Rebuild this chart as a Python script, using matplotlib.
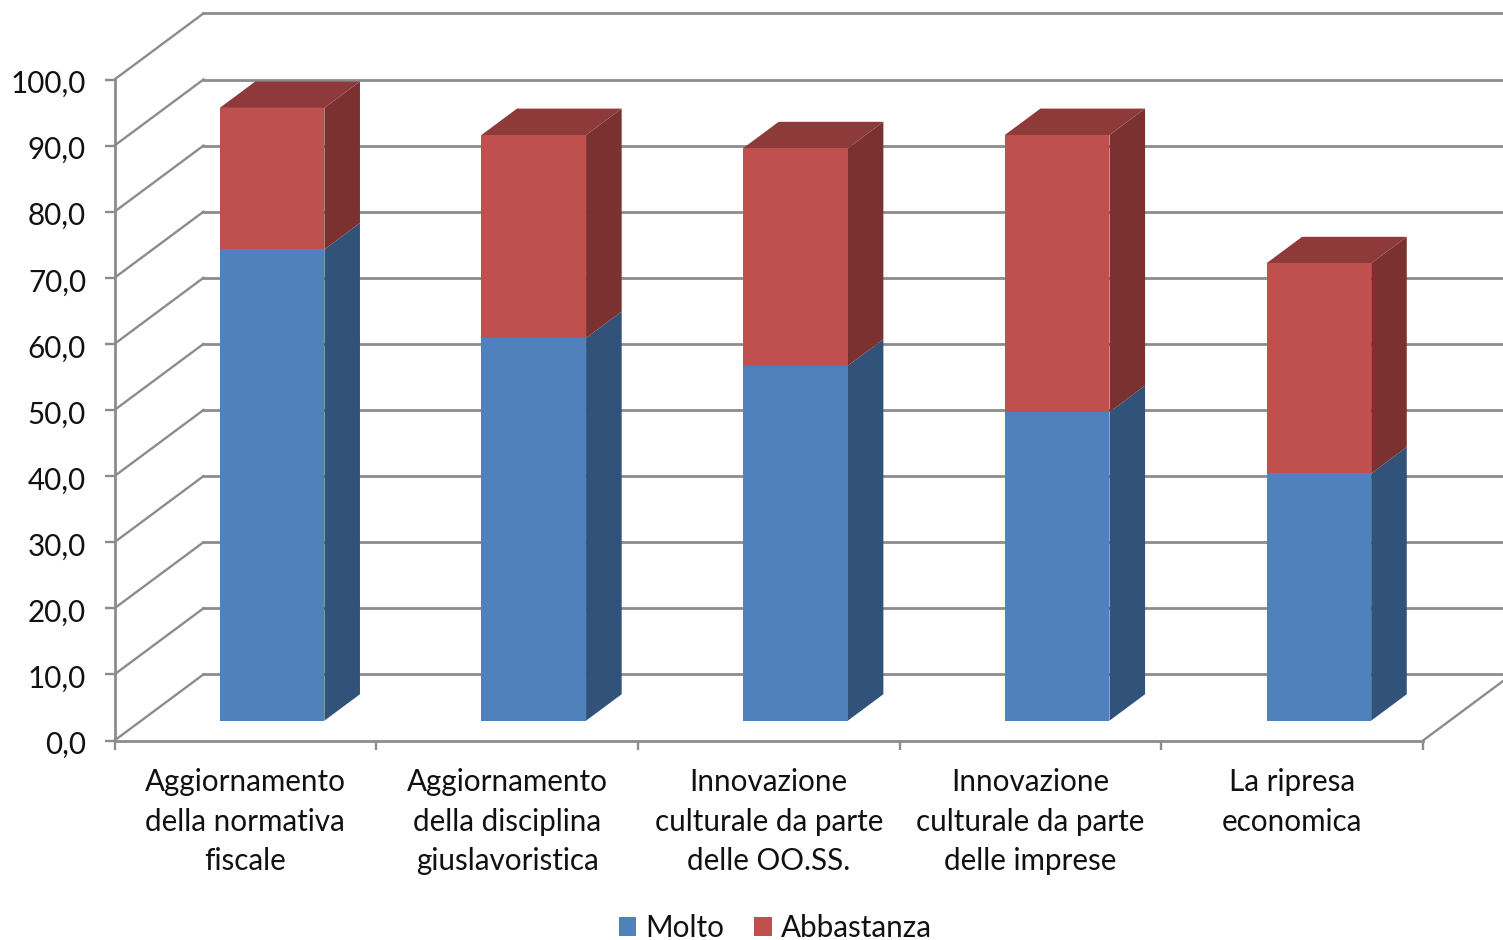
#!/usr/bin/env python3

import matplotlib
matplotlib.use("Agg")
import matplotlib.pyplot as plt
import matplotlib.ticker as tck
from matplotlib.patches import Patch, Polygon
from matplotlib.transforms import ScaledTranslation

CATEGORIES = [
    "Aggiornamento\ndella normativa\nfiscale",
    "Aggiornamento\ndella disciplina\ngiuslavoristica",
    "Innovazione\nculturale da parte\ndelle OO.SS.",
    "Innovazione\nculturale da parte\ndelle imprese",
    "La ripresa\neconomica",
]
MOLTO = [71.3, 57.9, 53.7, 46.7, 37.4]
ABBASTANZA = [21.4, 30.7, 32.9, 41.9, 31.8]
SERIES_NAMES = ["Molto", "Abbastanza"]
Y_TICKS = [0, 10, 20, 30, 40, 50, 60, 70, 80, 90, 100]

FONT = "Lato"
FONT_SIZE = 21.3
GRID_COLOR = "#8c8c8c"
GRID_WIDTH = 2.0

# fake 3d: full depth of the box, in axis units
DEPTH_X = 0.34
DEPTH_Y = 10.0
BAR_WIDTH = 0.40
BAR_START = 0.30  # where the bar sits inside the depth
BAR_DEPTH = 0.40

MOLTO_COLORS = ("#4f81bd", "#8f3a3a", "#325379")
ABB_COLORS = ("#c0504d", "#8f3a3a", "#7b3130")


def draw_block(ax, x0, x1, y0, y1, colors, draw_top):
    dx = DEPTH_X * BAR_DEPTH
    dy = DEPTH_Y * BAR_DEPTH
    front, top, side = colors
    ax.add_patch(Polygon([(x1, y0), (x1 + dx, y0 + dy), (x1 + dx, y1 + dy), (x1, y1)],
                         facecolor=side, edgecolor="none", zorder=3, clip_on=False))
    if draw_top:
        ax.add_patch(Polygon([(x0, y1), (x0 + dx, y1 + dy), (x1 + dx, y1 + dy), (x1, y1)],
                             facecolor=top, edgecolor="none", zorder=3, clip_on=False))
    ax.add_patch(Polygon([(x0, y0), (x1, y0), (x1, y1), (x0, y1)],
                         facecolor=front, edgecolor="none", zorder=4, clip_on=False))


if __name__ == "__main__":
    plt.rcParams["font.family"] = [FONT, "DejaVu Sans"]
    plt.rcParams["font.size"] = FONT_SIZE

    fig = plt.figure(figsize=(15.03, 9.40), dpi=100)
    ax = fig.add_axes([114.5 / 1503, 199.5 / 940, 1308.5 / 1503, 661 / 940])
    ax.set_xlim(0, len(CATEGORIES))
    ax.set_ylim(0, 100)

    for spine in ["top", "right"]:
        ax.spines[spine].set_visible(False)
    for spine in ["left", "bottom"]:
        ax.spines[spine].set_color(GRID_COLOR)
        ax.spines[spine].set_linewidth(GRID_WIDTH)

    # back wall and left wall lines
    for v in Y_TICKS:
        ax.plot([0, DEPTH_X], [v, v + DEPTH_Y], color=GRID_COLOR, lw=GRID_WIDTH * 0.85,
                clip_on=False, zorder=1)
        ax.plot([DEPTH_X, len(CATEGORIES) + DEPTH_X], [v + DEPTH_Y, v + DEPTH_Y], color=GRID_COLOR,
                lw=GRID_WIDTH, clip_on=False, zorder=1)
    ax.plot([len(CATEGORIES), len(CATEGORIES) + DEPTH_X], [0, DEPTH_Y], color=GRID_COLOR,
            lw=GRID_WIDTH * 0.85, clip_on=False, zorder=1)

    offset_x = DEPTH_X * BAR_START
    offset_y = DEPTH_Y * BAR_START
    for i in range(len(CATEGORIES)):
        x0 = i + 0.5 - BAR_WIDTH / 2 + offset_x
        x1 = x0 + BAR_WIDTH
        total = MOLTO[i] + ABBASTANZA[i]
        draw_block(ax, x0, x1, offset_y, MOLTO[i] + offset_y, MOLTO_COLORS, False)
        draw_block(ax, x0, x1, MOLTO[i] + offset_y, total + offset_y, ABB_COLORS, True)

    ax.set_yticks(Y_TICKS)
    ax.yaxis.set_major_formatter(tck.FuncFormatter(lambda y, p: "{0:.1f}".format(y).replace(".", ",")))
    ax.tick_params(axis="y", length=7, width=GRID_WIDTH * 0.85, color=GRID_COLOR, pad=13.5, labelcolor="#111111")
    # labels sit a little below their tick
    shift = ScaledTranslation(0, -2 / 100, fig.dpi_scale_trans)
    for label in ax.get_yticklabels():
        label.set_transform(label.get_transform() + shift)

    ax.set_xticks(range(len(CATEGORIES) + 1))
    ax.set_xticklabels([])
    ax.set_xticks([i + 0.5 for i in range(len(CATEGORIES))], labels=CATEGORIES, minor=True)
    ax.tick_params(axis="x", which="major", length=6.5, width=GRID_WIDTH * 0.85, color=GRID_COLOR)
    ax.tick_params(axis="x", which="minor", length=0, pad=20, labelcolor="#111111")
    for label in ax.get_xticklabels(minor=True):
        label.set_linespacing(1.5)
        label.set_verticalalignment("top")

    handles = [Patch(facecolor=MOLTO_COLORS[0], label=SERIES_NAMES[0]),
               Patch(facecolor=ABB_COLORS[0], label=SERIES_NAMES[1])]
    fig.legend(handles=handles, loc="center", bbox_to_anchor=(775 / 1503, 1 - 928 / 940), ncol=2,
               frameon=False, handlelength=0.6, handleheight=0.6, handletextpad=0.3,
               columnspacing=1.0, borderpad=0, fontsize=FONT_SIZE, labelcolor="#111111")

    fig.savefig("out.png", dpi=100, facecolor="white")
    plt.close(fig)
